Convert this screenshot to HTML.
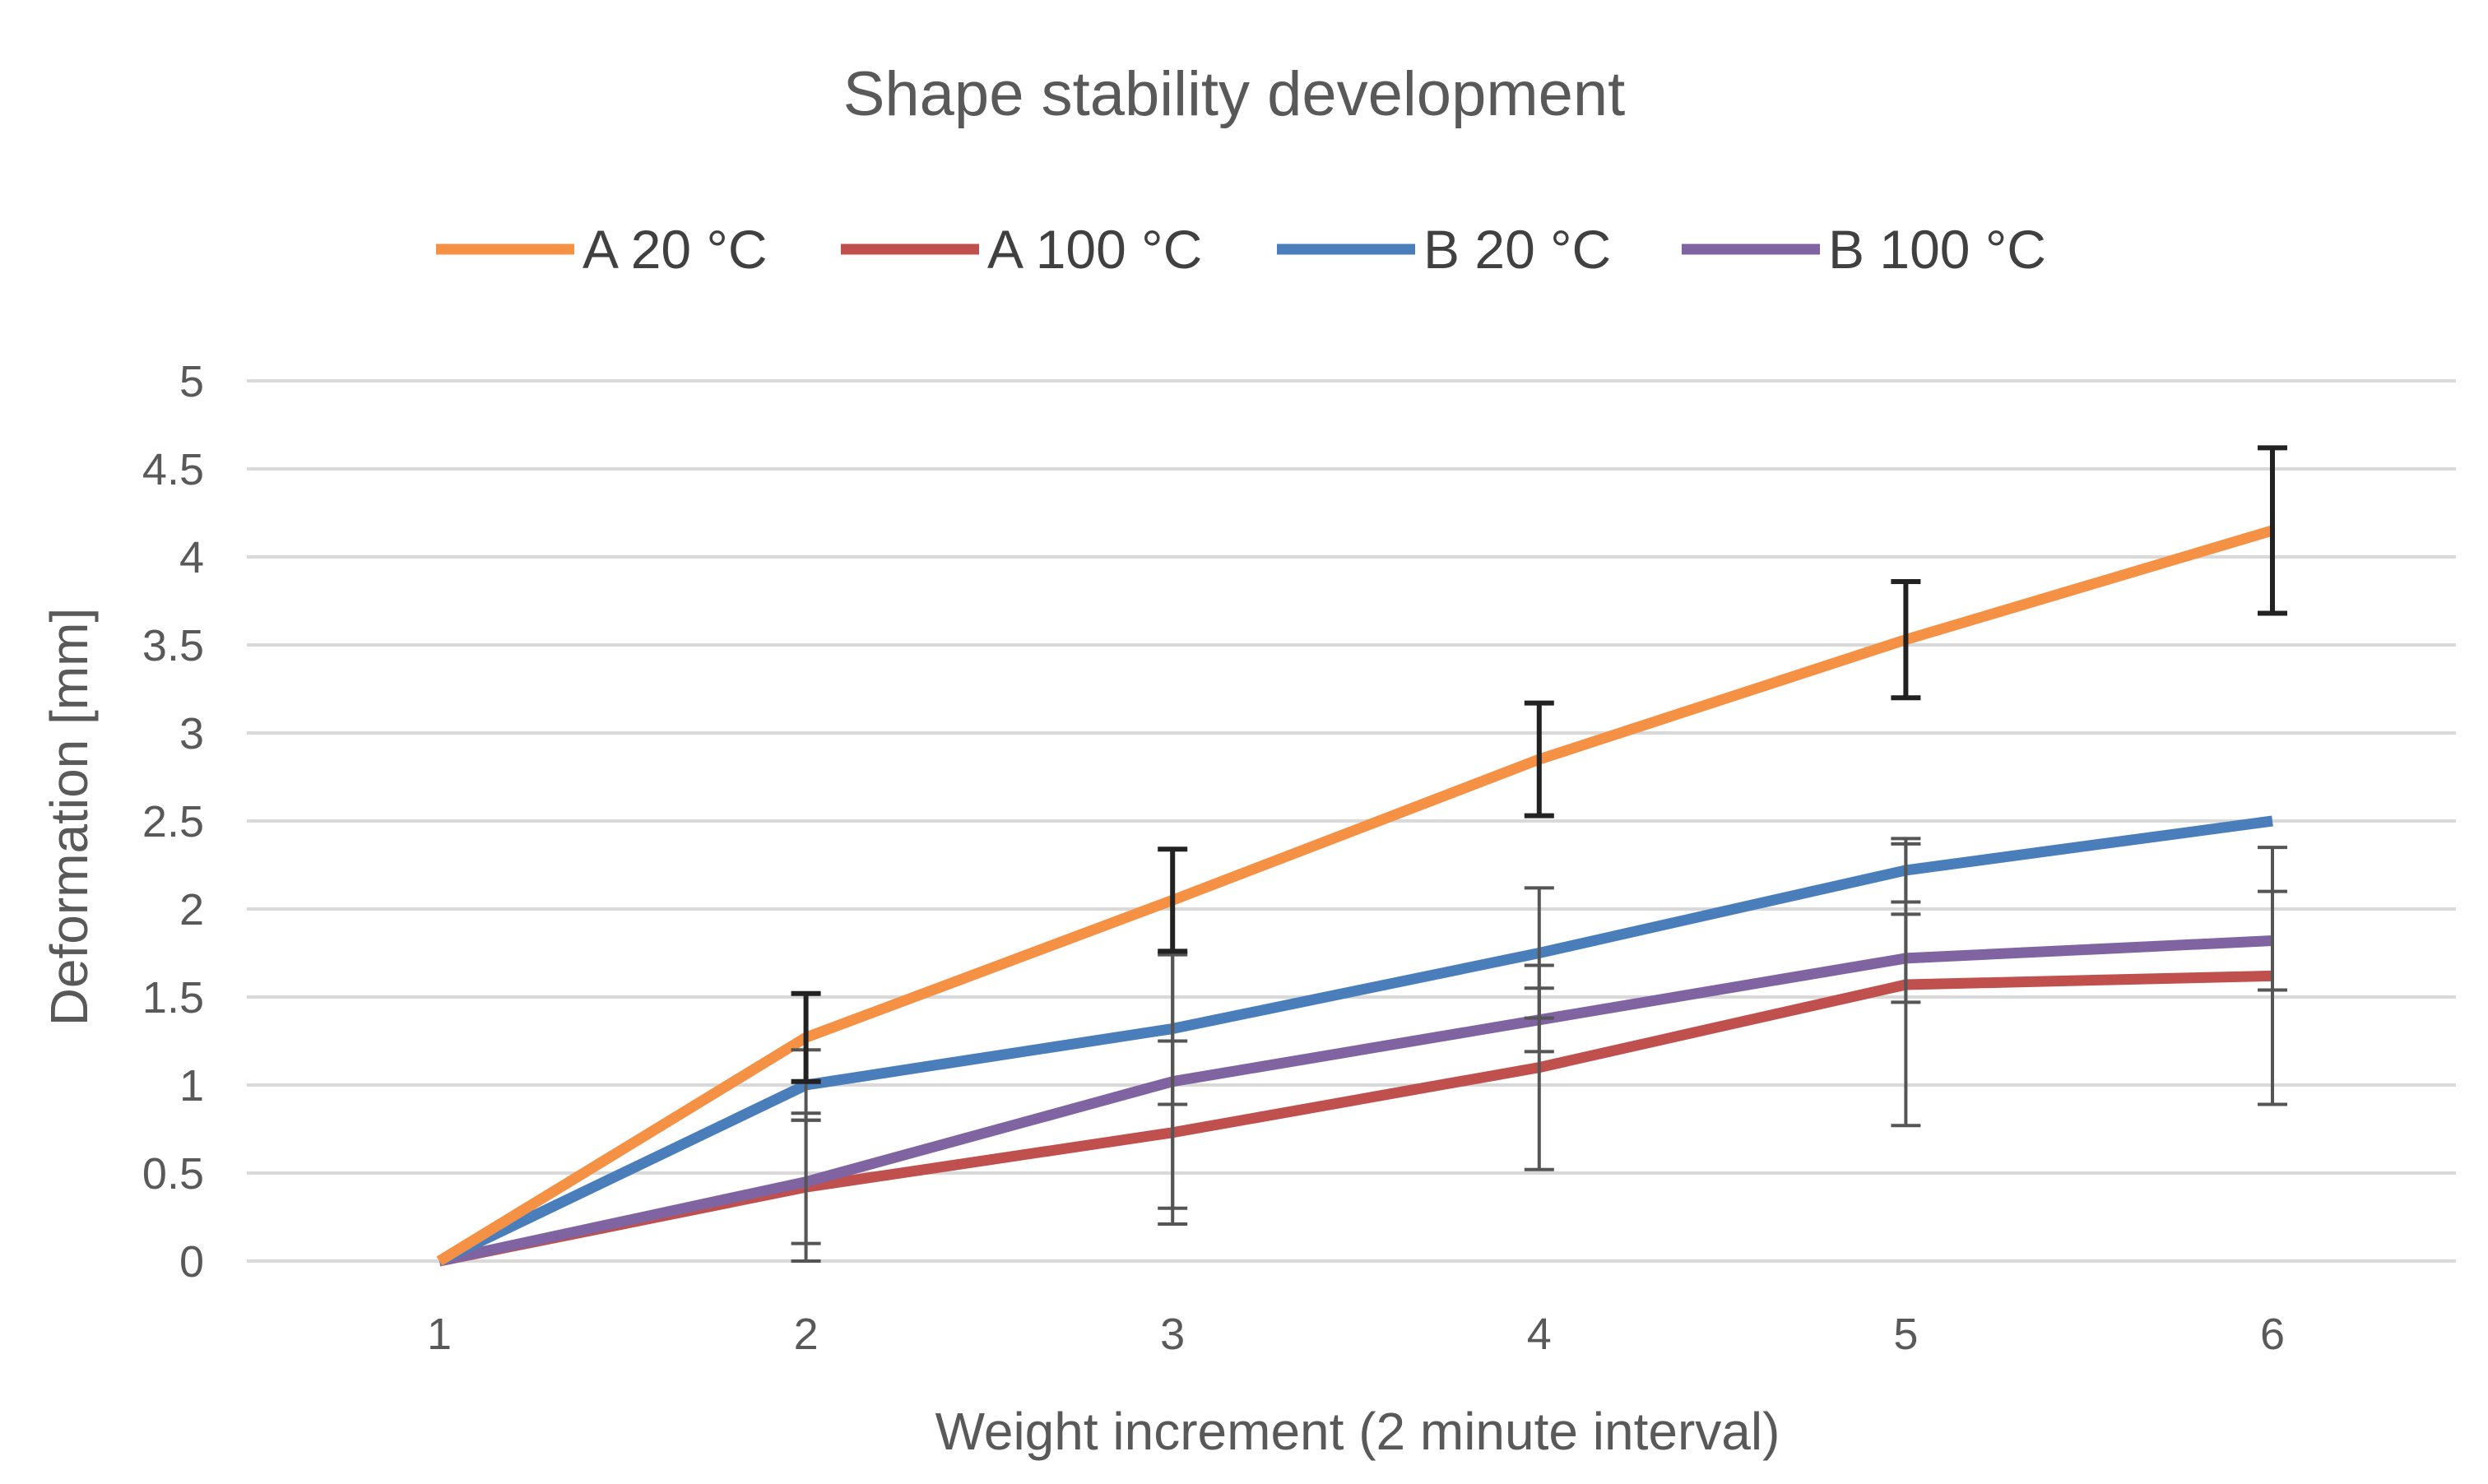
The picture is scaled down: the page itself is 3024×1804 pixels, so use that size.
<!DOCTYPE html>
<html><head><meta charset="utf-8"><style>
body{margin:0;background:#fff;}
svg{display:block;font-family:"Liberation Sans",sans-serif;}
</style></head><body>
<svg id="chart" width="3024" height="1804" viewBox="0 0 3024 1804" xmlns="http://www.w3.org/2000/svg">
<text x="1500" y="140" font-size="76" fill="#595959" text-anchor="middle">Shape stability development</text>
<g id="legend"></g>
<g id="grid"></g>
<g id="series"></g>
<text transform="translate(106,993) rotate(-90)" font-size="64" fill="#595959" text-anchor="middle">Deformation [mm]</text>
<text x="1650" y="1762" font-size="64" fill="#595959" text-anchor="middle">Weight increment (2 minute interval)</text>
</svg>
<script>
const categories=[1,2,3,4,5,6];
const yTicks=[0,0.5,1,1.5,2,2.5,3,3.5,4,4.5,5];
const yTickLabels=["0","0.5","1","1.5","2","2.5","3","3.5","4","4.5","5"];
const seriesNames=["A 20 °C","A 100 °C","B 20 °C","B 100 °C"];
const a20=[0,1.27,2.05,2.85,3.53,4.15];
const a20Err=[0,0.25,0.29,0.32,0.33,0.47];
const a100=[0,0.42,0.73,1.1,1.57,1.62];
const a100Err=[0,0.42,0.52,0.58,0.8,0.73];
const b20=[0,1.0,1.32,1.75,2.22,2.5];
const b20Err=[0,0.2,0.43,0.37,0.18,0];
const b100=[0,0.45,1.02,1.37,1.72,1.82];
const b100Err=[0,0.35,0.72,0.18,0.25,0.28];
const NS="http://www.w3.org/2000/svg";
const x=v=>534+(v-1)*445.6;
const y=v=>1533-v*214;
function mk(t,a,p){const e=document.createElementNS(NS,t);for(const k in a)e.setAttribute(k,a[k]);p.appendChild(e);return e;}
const grid=document.getElementById('grid');
yTicks.forEach((t,i)=>{
 const l=mk('line',{x1:300,x2:2985,y1:y(t),y2:y(t),stroke:'#d9d9d9','stroke-width':4},grid);
 
 
 const tx=mk('text',{x:248,y:y(t)+19,'font-size':54,fill:'#595959','text-anchor':'end'},grid);
 tx.textContent=yTickLabels[i];
 
 
});
categories.forEach(c=>{
 const tx=mk('text',{x:x(c),y:1640,'font-size':54,fill:'#595959','text-anchor':'middle'},grid);
 tx.textContent=String(c);
 
 
});
const colors=["#F59145","#C0504D","#4A7EBB","#8064A2"];
const data=[a20,a100,b20,b100], errs=[a20Err,a100Err,b20Err,b100Err];
const ser=document.getElementById('series');
const order=[1,3,2,0];
order.forEach(s=>{
 const pts=data[s].map((v,i)=>x(categories[i])+','+y(v)).join(' ');
 const pl=mk('polyline',{points:pts,fill:'none',stroke:colors[s],'stroke-width':13,'stroke-linejoin':'round'},ser);
 
 
});
order.forEach(s=>{
 const col=s===0?'#222':'#555', w=s===0?6:4;
 data[s].forEach((v,i)=>{
  const e=errs[s][i]; if(!e) return;
  const cx=x(categories[i]);
  const g=mk('g',{stroke:col,'stroke-width':w},ser);
  
  
  mk('line',{x1:cx,x2:cx,y1:y(v+e),y2:y(v-e)},g);
  mk('line',{x1:cx-18,x2:cx+18,y1:y(v+e),y2:y(v+e)},g);
  mk('line',{x1:cx-18,x2:cx+18,y1:y(v-e),y2:y(v-e)},g);
 });
});
const leg=document.getElementById('legend');
const lx=[530,1022,1552,2044];
seriesNames.forEach((n,i)=>{
 const g=mk('g',{},leg);
 
 
 mk('line',{x1:lx[i],x2:lx[i]+168,y1:303,y2:303,stroke:colors[i],'stroke-width':13},g);
 const t=mk('text',{x:lx[i]+178,y:326,'font-size':66,fill:'#404040'},g);
 t.textContent=n;
});
</script>
</body></html>
